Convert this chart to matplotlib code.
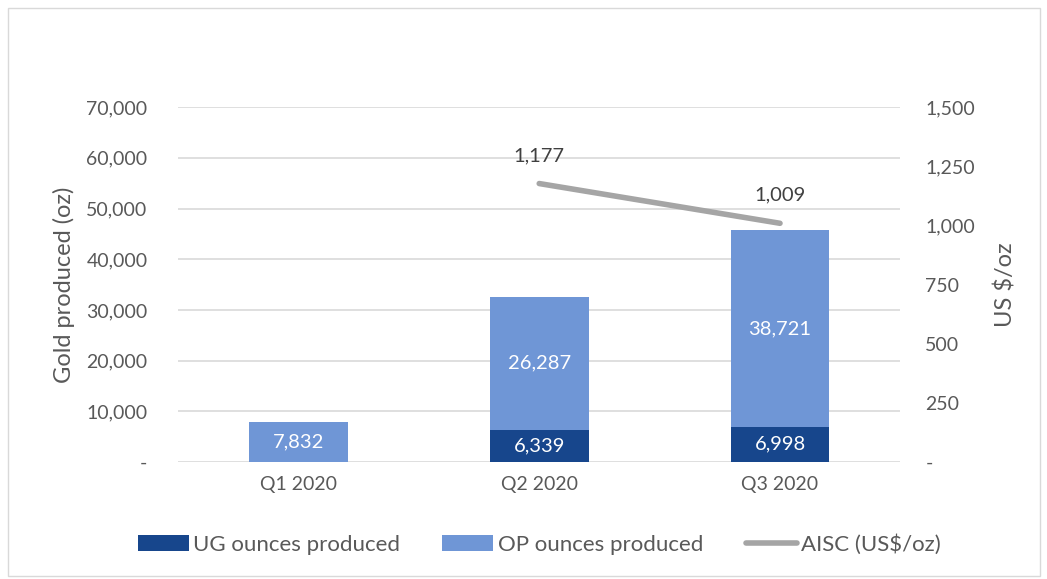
import numpy as np
import matplotlib.pyplot as plt
from matplotlib.ticker import FuncFormatter

plt.rcParams['font.family'] = ['Lato', 'DejaVu Sans']

quarters = ['Q1 2020', 'Q2 2020', 'Q3 2020']
ug_oz = [0, 6339, 6998]
op_oz = [7832, 26287, 38721]
aisc = [np.nan, 1177, 1009]

c_ug = '#17468c'
c_op = '#6f96d6'
c_line = '#a5a5a5'
c_txt = '#595959'

fig = plt.figure(figsize=(10.47, 5.79), dpi=100)
ax = fig.add_axes([0.170, 0.202, 0.690, 0.613])
ax2 = ax.twinx()

x = np.arange(len(quarters))
w = 0.41
b1 = ax.bar(x, ug_oz, w, color=c_ug, label='UG ounces produced', zorder=3)
b2 = ax.bar(x, op_oz, w, bottom=ug_oz, color=c_op, label='OP ounces produced', zorder=3)

for i in range(len(x)):
    if ug_oz[i] > 0:
        ax.text(x[i], ug_oz[i] / 2, f'{ug_oz[i]:,}', ha='center', va='center',
                color='white', fontsize=14.5, zorder=4)
    ax.text(x[i], ug_oz[i] + op_oz[i] / 2, f'{op_oz[i]:,}', ha='center', va='center',
            color='white', fontsize=14.5, zorder=4)

ln, = ax2.plot(x, aisc, color=c_line, lw=4, solid_capstyle='round', label='AISC (US$/oz)')
for i in range(len(x)):
    if not np.isnan(aisc[i]):
        ax2.annotate(f'{aisc[i]:,.0f}', (x[i], aisc[i]), xytext=(0, 14), textcoords='offset points',
                     ha='center', va='bottom', fontsize=14.5, color='#404040')

ax.set_xlim(-0.5, 2.5)
ax.set_ylim(0, 70000)
ax2.set_ylim(0, 1500)
ax.set_yticks(np.arange(0, 70001, 10000))
ax2.set_yticks(np.arange(0, 1501, 250))
fmt = FuncFormatter(lambda v, p: '-' if v == 0 else f'{v:,.0f}')
ax.yaxis.set_major_formatter(fmt)
ax2.yaxis.set_major_formatter(fmt)
ax.set_xticks(x)
ax.set_xticklabels(quarters)

ax.grid(axis='y', color='#d9d9d9', lw=1.2, zorder=0)
for a in (ax, ax2):
    for s in a.spines.values():
        s.set_visible(False)
    a.tick_params(length=0, labelsize=14, colors=c_txt)
ax.tick_params(axis='y', pad=22)
ax2.tick_params(axis='y', pad=18)
ax.tick_params(axis='x', pad=10)

ax.set_ylabel('Gold produced (oz)', fontsize=17, color=c_txt, labelpad=8)
ax2.set_ylabel('US $/oz', fontsize=17, color=c_txt, labelpad=14)

fig.legend(handles=[b1, b2, ln], loc='center', bbox_to_anchor=(0.515, 0.06), ncol=3,
           frameon=False, fontsize=16, labelcolor=c_txt, handlelength=2.3,
           handleheight=0.7, columnspacing=1.9, handletextpad=0.2)

fig.patches.append(plt.Rectangle((0.008, 0.006), 0.985, 0.98, transform=fig.transFigure,
                                 fill=False, edgecolor='#d9d9d9', lw=1))

fig.savefig('out.png', dpi=100)
